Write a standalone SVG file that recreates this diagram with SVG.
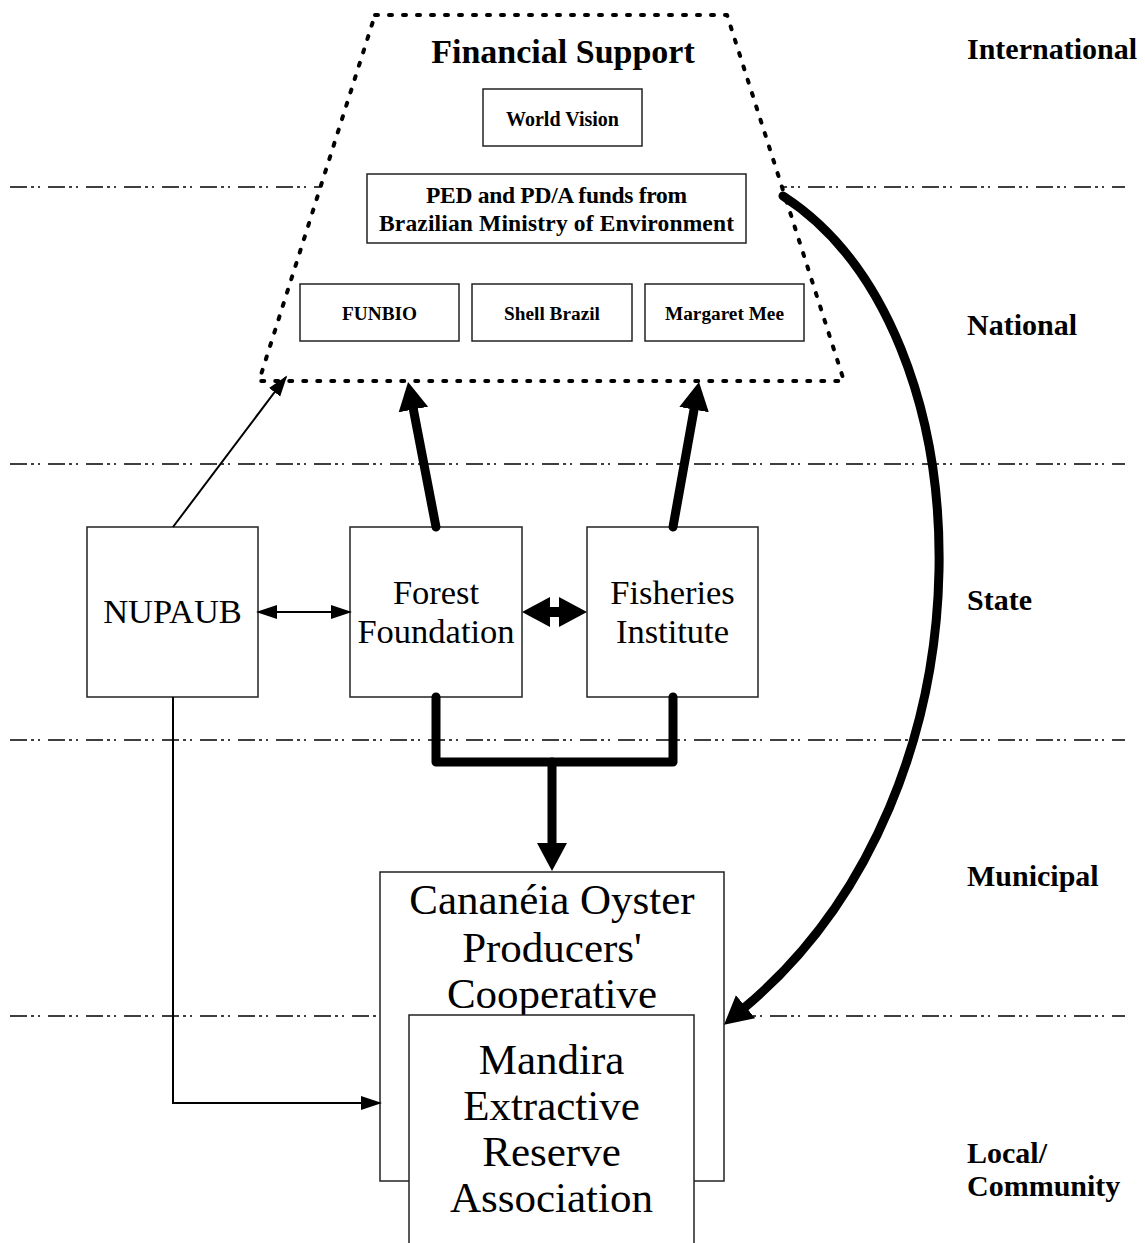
<svg xmlns="http://www.w3.org/2000/svg" width="1145" height="1243" viewBox="0 0 1145 1243">
<style>
.level{stroke:#000;stroke-width:1.3;fill:none;stroke-dasharray:17 4 3 4 2 8}
.box{fill:#fff;stroke:#222;stroke-width:1.5}
.big{font-family:"Liberation Serif","Times New Roman",serif;font-size:34.5px;fill:#000;text-anchor:middle}
.huge{font-family:"Liberation Serif","Times New Roman",serif;font-size:43px;fill:#000;text-anchor:middle}
.fund{font-family:"Liberation Serif","Times New Roman",serif;font-weight:bold;font-size:19.3px;fill:#000;text-anchor:middle}
.lbl{font-family:"Liberation Serif","Times New Roman",serif;font-weight:bold;font-size:30px;fill:#000}
.thin{stroke:#000;stroke-width:2;fill:none}
.thick{stroke:#000;stroke-width:9;fill:none;stroke-linecap:round;stroke-linejoin:round}
</style>
<defs>
<marker id="ah" markerUnits="userSpaceOnUse" markerWidth="22" markerHeight="16" refX="19" refY="7" orient="auto-start-reverse" viewBox="0 0 22 16">
<path d="M0,0 L21,7 L0,14 z" fill="#000"/>
</marker>
<marker id="AH" markerUnits="userSpaceOnUse" markerWidth="30" markerHeight="32" refX="2" refY="15" orient="auto-start-reverse" viewBox="0 0 30 32">
<path d="M0,0 L28,15 L0,30 z" fill="#000"/>
</marker>
</defs>

<g id="levels">
<line class="level" x1="10" y1="187" x2="1125" y2="187"/>
<line class="level" x1="10" y1="464" x2="1125" y2="464"/>
<line class="level" x1="10" y1="740" x2="1125" y2="740"/>
<line class="level" x1="10" y1="1016" x2="1125" y2="1016"/>
</g>

<g id="level-labels">
<text class="lbl" x="967" y="59">International</text>
<text class="lbl" x="967" y="335">National</text>
<text class="lbl" x="967" y="610">State</text>
<text class="lbl" x="967" y="886">Municipal</text>
<text class="lbl" x="967" y="1163">Local/</text>
<text class="lbl" x="967" y="1196">Community</text>
</g>

<g id="financial-support">
<polygon points="375,15 727,15 844,381 259,381" fill="#fff" stroke="#000" stroke-width="4" stroke-dasharray="3 11" stroke-linecap="round" stroke-linejoin="round"/>
<text x="563" y="63" font-family="'Liberation Serif','Times New Roman',serif" font-weight="bold" font-size="34" text-anchor="middle">Financial Support</text>
</g>

<g id="world-vision">
<rect class="box" x="483" y="89" width="159" height="57"/>
<text class="fund" x="562.5" y="126" style="font-size:20px">World Vision</text>
</g>
<g id="ped">
<rect class="box" x="367" y="174" width="379" height="69"/>
<text class="fund" x="556.5" y="203" style="font-size:23.5px" textLength="261" lengthAdjust="spacing">PED and PD/A funds from</text>
<text class="fund" x="556.5" y="231" style="font-size:23.5px" textLength="355" lengthAdjust="spacing">Brazilian Ministry of Environment</text>
</g>
<g id="funbio">
<rect class="box" x="300" y="284" width="159" height="57"/>
<text class="fund" x="379.5" y="320">FUNBIO</text>
</g>
<g id="shell">
<rect class="box" x="472" y="284" width="160" height="57"/>
<text class="fund" x="552" y="320">Shell Brazil</text>
</g>
<g id="margaret">
<rect class="box" x="645" y="284" width="159" height="57"/>
<text class="fund" x="724.5" y="320">Margaret Mee</text>
</g>

<g id="nupaub">
<rect class="box" x="87" y="527" width="171" height="170"/>
<text class="big" x="172.5" y="623">NUPAUB</text>
</g>
<g id="forest">
<rect class="box" x="350" y="527" width="172" height="170"/>
<text class="big" x="436" y="604">Forest</text>
<text class="big" x="436" y="643">Foundation</text>
</g>
<g id="fisheries">
<rect class="box" x="587" y="527" width="171" height="170"/>
<text class="big" x="672.5" y="604">Fisheries</text>
<text class="big" x="672.5" y="643">Institute</text>
</g>

<g id="cananeia">
<rect class="box" x="380" y="872" width="344" height="309"/>
<text class="huge" x="552" y="914">Cananéia Oyster</text>
<text class="huge" x="552" y="962">Producers'</text>
<text class="huge" x="552" y="1008">Cooperative</text>
</g>
<g id="mandira">
<rect class="box" x="409" y="1015" width="285" height="240"/>
<text class="huge" x="551.5" y="1074">Mandira</text>
<text class="huge" x="551.5" y="1120">Extractive</text>
<text class="huge" x="551.5" y="1166">Reserve</text>
<text class="huge" x="551.5" y="1212">Association</text>
</g>

<g id="connectors">
<line class="thin" x1="173" y1="527" x2="286" y2="377" marker-end="url(#ah)"/>
<line class="thick" x1="436" y1="527" x2="413" y2="407.5" marker-end="url(#AH)"/>
<line class="thick" x1="673" y1="527" x2="694.4" y2="407.6" marker-end="url(#AH)"/>
<line class="thin" x1="258" y1="612" x2="350" y2="612" marker-start="url(#ah)" marker-end="url(#ah)"/>
<line stroke="#000" stroke-width="10" x1="548" y1="612" x2="561" y2="612" marker-start="url(#AH)" marker-end="url(#AH)"/>
<path class="thick" d="M436,697 L436,762 L673,762 L673,697"/>
<path class="thick" d="M552,762 L552,845" stroke-linecap="butt" marker-end="url(#AH)"/>
<path class="thin" d="M173,697 L173,1103 L380,1103" marker-end="url(#ah)"/>
<path class="thick" d="M783,196 C990,330 1005,790 744,1008" marker-end="url(#AH)"/>
</g>
</svg>
